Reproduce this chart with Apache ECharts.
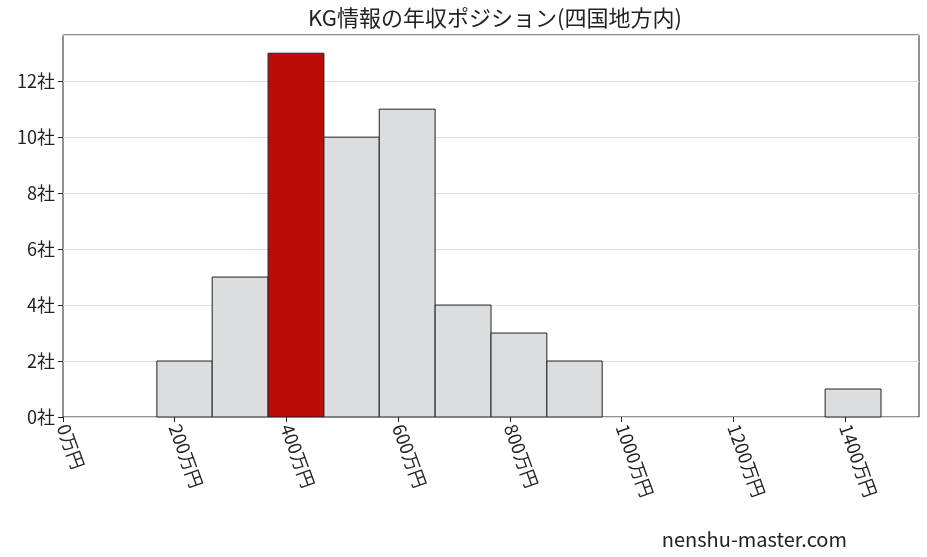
<!DOCTYPE html>
<html><head><meta charset="utf-8">
<script src="https://cdn.jsdelivr.net/npm/echarts@6/dist/echarts.min.js"></script>
<style>html,body{margin:0;background:#fff}#c{width:927px;height:557px}</style>
</head><body><div id="c"></div>
<script>
// 階級（万円）と社数
const binLo = [168, 267, 367, 467, 566, 666, 766, 866, 1364];
const binHi = [267, 367, 467, 566, 666, 766, 866, 965, 1464];
const counts = [2, 5, 13, 10, 11, 4, 3, 2, 1];
const highlightIndex = 2; // KG情報の位置
const xTicks = [0, 200, 400, 600, 800, 1000, 1200, 1400];

const font = '"Noto Sans CJK JP", serif';
const chart = echarts.init(document.getElementById('c'));
const data = counts.map((v, i) => [binLo[i], binHi[i], v]);

chart.setOption({
  animation: false,
  title: {
    text: 'KG情報の年収ポジション(四国地方内)', left: 490, top: 2, textAlign: 'center',
    textStyle: {fontFamily: font, fontSize: 22, fontWeight: 'normal', color: '#222'}
  },
  graphic: [{
    type: 'text', right: 80, bottom: 8,
    style: {text: 'nenshu-master.com', font: '20px ' + font, fill: '#222'}
  }],
  grid: {left: 63, right: 8, top: 35, bottom: 140, show: true, borderColor: '#222', borderWidth: 1},
  xAxis: {
    type: 'value', min: 0, max: 1532, interval: 200,
    axisLine: {show: false}, splitLine: {show: false},
    axisTick: {show: true, length: 5, lineStyle: {color: '#222'}},
    axisLabel: {
      rotate: -70, fontFamily: font, fontSize: 18, color: '#222', showMaxLabel: false,
      formatter: v => xTicks.includes(v) ? v + '万円' : ''
    }
  },
  yAxis: {
    type: 'value', min: 0, max: 13.65, interval: 2,
    axisLine: {show: false},
    axisTick: {show: true, length: 5, lineStyle: {color: '#222'}},
    splitLine: {lineStyle: {color: '#ddd'}},
    axisLabel: {fontFamily: font, fontSize: 18, color: '#222', showMaxLabel: false, formatter: v => v + '社'}
  },
  series: [{
    type: 'custom',
    data: data,
    renderItem: function (params, api) {
      const p0 = api.coord([api.value(0), api.value(2)]);
      const p1 = api.coord([api.value(1), 0]);
      return {
        type: 'rect',
        shape: {x: p0[0], y: p0[1], width: p1[0] - p0[0], height: p1[1] - p0[1]},
        style: {
          fill: params.dataIndex === highlightIndex ? '#bf0a0a' : '#dcdddf',
          stroke: '#222', lineWidth: 1
        }
      };
    },
    encode: {x: [0, 1], y: 2}
  }]
});
</script></body></html>
